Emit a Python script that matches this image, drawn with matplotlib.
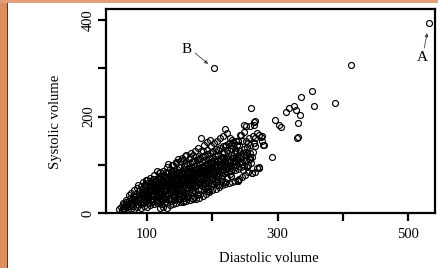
import matplotlib
matplotlib.use("Agg")
import matplotlib.pyplot as plt
from matplotlib.patches import Rectangle

plt.rcParams['font.family'] = ['Liberation Serif', 'DejaVu Serif']

x_ticks = [100, 200, 300, 400, 500]
x_tick_labels = ['100', '', '300', '', '500']
y_ticks = [0, 100, 200, 300, 400]
y_tick_labels = ['0', '', '200', '', '400']
x_label = 'Diastolic volume'
y_label = 'Systolic volume'

# (diastolic, systolic) pairs
cloud_low = [
    (57, 8), (60, 12), (62, 6), (64, 18), (63, 10), (63, 21),
    (65, 8), (66, 15), (68, 22), (68, 27), (69, 12),
    (70, 8), (71, 18), (72, 25), (73, 32), (74, 14), (72, 38),
    (75, 8), (76, 20), (77, 28), (78, 35), (79, 15), (76, 42), (78, 24),
    (80, 9), (81, 22), (82, 30), (83, 40), (84, 18), (80, 48), (82, 35), (84, 26),
    (85, 12), (86, 25), (87, 33), (88, 45), (89, 20), (85, 52), (87, 38), (88, 28), (86, 58),
    (90, 10), (91, 28), (92, 36), (93, 48), (94, 22), (91, 56), (92, 42), (94, 32), (93, 65), (90, 18),
    (95, 14), (96, 30), (97, 40), (98, 52), (99, 25), (96, 60), (97, 45), (99, 35), (98, 68), (95, 20), (97, 55),
    (100, 12), (101, 32), (102, 42), (103, 55), (104, 26), (101, 62), (102, 48), (104, 38), (100, 69), (103, 20), (101, 50), (104, 58),
    (105, 16), (106, 35), (107, 45), (108, 58), (109, 28), (106, 65), (107, 50), (109, 40), (105, 72), (108, 22), (106, 55), (109, 62), (107, 30),
    (110, 18), (111, 38), (112, 48), (113, 60), (114, 30), (111, 70), (112, 54), (114, 44), (110, 78), (113, 24), (111, 58), (114, 66), (112, 34), (115, 87),
    (115, 20), (116, 40), (117, 50), (118, 62), (119, 32), (116, 72), (117, 56), (119, 46), (118, 82), (115, 26), (116, 60), (119, 68), (117, 36), (118, 52),
    (120, 10), (121, 42), (122, 52), (123, 65), (124, 34), (121, 75), (122, 58), (124, 48), (120, 85), (123, 26), (121, 62), (124, 70), (122, 38), (123, 55), (122, 18),
    (125, 12), (126, 45), (127, 55), (128, 68), (129, 36), (126, 78), (127, 60), (129, 50), (125, 88), (128, 28), (126, 65), (129, 74), (127, 40), (128, 57), (126, 20),
    (130, 10), (131, 48), (132, 58), (133, 70), (134, 38), (131, 82), (132, 63), (134, 52), (130, 95), (133, 30), (131, 68), (134, 77), (132, 42), (133, 60), (131, 22), (132, 102),
    (135, 16), (136, 50), (137, 60), (138, 72), (139, 40), (136, 85), (137, 66), (139, 55), (138, 99), (135, 32), (136, 70), (139, 80), (137, 45), (138, 62), (136, 24), (135, 92),
]

cloud_mid = [
    (140, 18), (141, 52), (142, 62), (143, 75), (144, 42), (141, 88), (142, 68), (144, 58), (140, 100), (143, 34), (141, 72), (144, 82), (142, 47), (143, 65), (141, 26), (144, 106),
    (145, 20), (146, 55), (147, 65), (148, 78), (149, 45), (146, 92), (147, 70), (149, 60), (145, 104), (148, 36), (146, 75), (149, 86), (147, 50), (148, 67), (146, 28), (148, 112),
    (150, 22), (151, 58), (152, 68), (153, 80), (154, 48), (151, 95), (152, 72), (154, 62), (150, 108), (153, 38), (151, 78), (154, 88), (152, 52), (153, 70), (151, 30), (153, 115),
    (155, 22), (156, 60), (157, 70), (158, 82), (159, 50), (156, 98), (157, 75), (159, 65), (155, 110), (158, 40), (156, 80), (159, 90), (157, 55), (158, 72), (156, 32), (158, 118), (156, 24),
    (160, 24), (161, 62), (162, 72), (163, 85), (164, 52), (161, 100), (162, 78), (164, 68), (160, 121), (163, 42), (161, 82), (164, 92), (162, 58), (163, 75), (161, 34), (164, 112),
    (165, 26), (166, 65), (167, 75), (168, 88), (169, 55), (166, 104), (167, 80), (169, 70), (166, 117), (168, 44), (166, 84), (169, 95), (167, 60), (168, 77), (169, 31), (167, 124),
    (170, 28), (171, 68), (172, 78), (173, 90), (174, 58), (171, 108), (172, 82), (174, 72), (170, 121), (173, 46), (171, 86), (174, 98), (172, 62), (173, 80), (172, 34), (174, 128),
    (175, 30), (176, 70), (177, 80), (178, 94), (179, 60), (176, 110), (177, 85), (179, 75), (175, 117), (178, 48), (176, 90), (179, 102), (177, 64), (178, 82), (176, 38), (178, 135),
    (180, 32), (181, 72), (182, 82), (183, 96), (184, 62), (181, 114), (182, 88), (184, 78), (183, 156), (183, 50), (181, 92), (184, 105), (182, 66), (183, 85), (181, 40), (182, 128),
    (185, 36), (186, 75), (187, 85), (188, 100), (189, 65), (186, 118), (187, 90), (189, 80), (186, 128), (188, 52), (186, 95), (189, 110), (187, 70), (188, 88), (187, 142),
    (190, 40), (191, 78), (192, 88), (193, 102), (194, 68), (191, 122), (192, 92), (194, 82), (191, 131), (192, 54), (191, 98), (194, 112), (192, 72), (193, 90), (192, 147), (194, 46),
]

cloud_high = [
    (195, 44), (196, 80), (197, 90), (198, 105), (199, 70), (196, 125), (197, 95), (199, 85), (197, 151), (198, 56), (196, 100), (199, 115), (197, 75), (198, 138),
    (200, 48), (201, 82), (202, 92), (203, 108), (204, 72), (201, 128), (202, 98), (204, 88), (202, 145), (203, 60), (201, 104), (204, 118), (202, 78),
    (205, 50), (206, 85), (207, 95), (208, 110), (209, 75), (206, 132), (207, 100), (209, 90), (207, 150), (205, 65), (206, 106), (209, 120), (207, 67),
    (210, 54), (211, 88), (212, 98), (213, 112), (214, 78), (211, 135), (212, 102), (214, 92), (212, 155), (213, 67), (211, 108), (214, 124),
    (215, 58), (216, 90), (217, 100), (218, 115), (219, 82), (216, 138), (217, 105), (219, 95), (217, 160), (216, 64), (218, 125),
    (220, 60), (221, 92), (222, 102), (223, 118), (224, 85), (221, 142), (222, 108), (224, 98), (222, 165), (220, 65), (223, 130),
    (225, 62), (226, 95), (227, 105), (228, 120), (229, 88), (226, 145), (227, 110), (229, 100), (227, 156), (228, 132), (230, 151),
    (230, 64), (231, 98), (232, 108), (233, 124), (234, 90), (231, 148), (232, 115), (234, 105), (233, 145), (232, 138),
    (235, 66), (236, 100), (237, 112), (238, 126), (239, 92), (236, 150), (237, 118), (239, 69), (238, 140),
    (240, 70), (241, 104), (242, 115), (243, 128), (244, 95), (243, 162), (242, 120), (244, 161), (241, 140),
    (245, 74), (246, 106), (247, 118), (248, 132), (249, 98), (248, 167), (247, 125), (248, 183), (246, 150),
    (250, 78), (251, 110), (252, 120), (253, 136), (254, 100), (251, 181), (253, 96), (252, 150), (254, 145),
    (255, 84), (256, 112), (257, 124), (258, 140), (259, 104), (258, 180), (258, 117), (257, 112), (256, 155),
    (260, 83), (261, 116), (262, 126), (263, 145), (264, 145), (264, 183), (264, 189), (262, 160),
    (266, 138), (265, 190), (269, 94), (266, 156), (268, 165),
    (271, 162), (272, 95), (274, 158), (276, 160), (271, 93), (277, 140), (279, 142), (276, 150),
]

cloud_fill = [
    (92, 50), (97, 33), (103, 44), (108, 36), (113, 52), (117, 42), (121, 30), (126, 52),
    (131, 40), (135, 64), (139, 48), (143, 56), (147, 40), (151, 64), (155, 46), (159, 78),
    (163, 64), (167, 50), (171, 74), (175, 56), (179, 88), (183, 70), (187, 60), (191, 84),
    (195, 64), (199, 96), (203, 82), (207, 70), (211, 96), (215, 84), (219, 110), (223, 92),
    (227, 80), (231, 106), (235, 96), (239, 110), (243, 106), (247, 90), (251, 126), (255, 100),
    (94, 40), (99, 58), (104, 48), (109, 70), (114, 56), (119, 76), (124, 60), (129, 84),
    (134, 70), (139, 90), (144, 74), (149, 96), (154, 82), (159, 104), (164, 88), (169, 106),
    (174, 92), (179, 112), (184, 96), (189, 118), (194, 104), (199, 126), (204, 112), (209, 130),
    (214, 116), (219, 138), (224, 124), (229, 140), (234, 128), (239, 150), (128, 46), (142, 36),
    (157, 42), (171, 48), (186, 56), (200, 62), (214, 70), (228, 76), (118, 24), (133, 28),
    (148, 30), (163, 36), (178, 40), (193, 50), (208, 58), (223, 72),
]

sparse = [
    (291, 117), (296, 192), (302, 183), (305, 178), (313, 209), (318, 217),
    (325, 221), (328, 214), (334, 203), (331, 187), (331, 158), (336, 241),
    (353, 252), (356, 221), (388, 229), (413, 306), (259, 217), (220, 175),
    (239, 67), (260, 83), (266, 84), (330, 156), (192, 54), (194, 46),
]

point_A = (532, 394)
point_B = (202, 301)

pairs = cloud_low + cloud_mid + cloud_high + cloud_fill + sparse + [point_A, point_B]
diastolic = [p[0] for p in pairs]
systolic = [p[1] for p in pairs]

W, H = 439, 268
fig = plt.figure(figsize=(W / 100, H / 100), dpi=100)
fig.patch.set_facecolor('white')

# orange page border (left and top)
fig.patches.append(Rectangle((0, 0), 7 / W, 1, transform=fig.transFigure,
                             facecolor='#DC8E5E', edgecolor='none', zorder=-2))
fig.patches.append(Rectangle((0, 1 - 3 / H), 1, 3 / H, transform=fig.transFigure,
                             facecolor='#E4A07A', edgecolor='none', zorder=-2))
fig.patches.append(Rectangle((7 / W, 0), 1.2 / W, 1 - 3 / H, transform=fig.transFigure,
                             facecolor='#5a3420', edgecolor='none', zorder=-1))

ax = fig.add_axes([106 / W, 1 - 213 / H, (435 - 106) / W, (213 - 9) / H])
ax.plot(diastolic, systolic, linestyle='none', marker='o', markersize=4.3,
        markerfacecolor='none', markeredgecolor='black', markeredgewidth=0.85,
        clip_on=False)

ax.set_xlim(37, 541)
ax.set_ylim(0, 423)
ax.set_xticks(x_ticks)
ax.set_xticklabels(x_tick_labels)
ax.set_yticks(y_ticks)
ax.set_yticklabels(y_tick_labels)
for s in ax.spines.values():
    s.set_linewidth(1.6)
ax.tick_params(axis='both', direction='out', length=6, width=1.6, labelsize=10.5)
ax.tick_params(axis='x', pad=5)
ax.tick_params(axis='y', pad=2)
for lab in ax.get_yticklabels():
    lab.set_rotation(90)
    lab.set_va('center')
    lab.set_ha('right')

fig.text(269 / W, 1 - 258 / H, x_label, ha='center', va='center', fontsize=10.5)
fig.text(55 / W, 1 - 122 / H, y_label, ha='center', va='center', rotation=90, fontsize=10.5)

ax.text(160.8, 339, 'B', ha='center', va='center', fontsize=11)
ax.annotate('', xy=(193.5, 309), xytext=(173.6, 331.6),
            arrowprops=dict(arrowstyle='-|>', lw=0.6, color='#444444', mutation_scale=5,
                            shrinkA=0, shrinkB=0))
ax.text(521, 323, 'A', ha='center', va='center', fontsize=11)
ax.annotate('', xy=(529, 373), xytext=(524.5, 342),
            arrowprops=dict(arrowstyle='-|>', lw=0.6, color='#444444', mutation_scale=5,
                            shrinkA=0, shrinkB=0))

fig.savefig('out.png', dpi=100)
